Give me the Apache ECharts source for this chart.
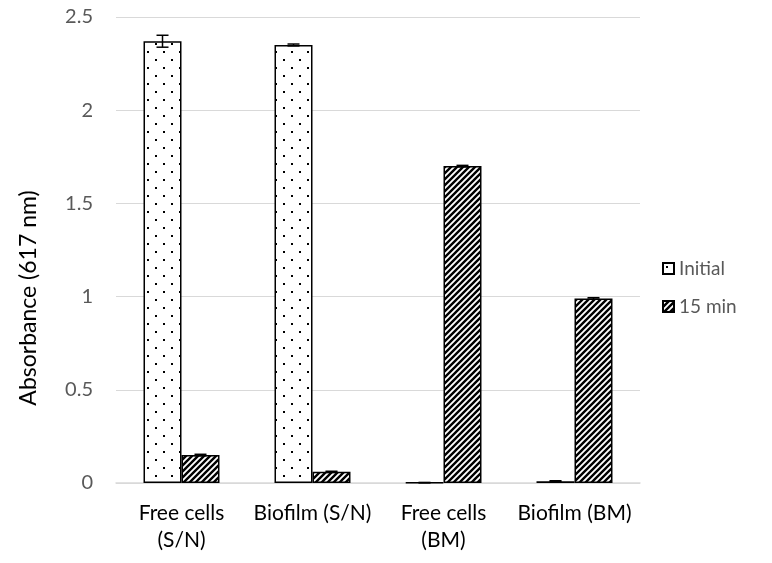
<!DOCTYPE html>
<html>
<head>
<meta charset="utf-8">
<script src="https://cdn.jsdelivr.net/npm/echarts@6/dist/echarts.min.js"></script>
<style>
  html, body { margin: 0; padding: 0; background: #fff; }
  #chart { width: 772px; height: 563px; }
</style>
</head>
<body>
<div id="chart"></div>
<script>
// chart data
const categories = ['Free cells\n(S/N)', 'Biofilm (S/N)', 'Free cells\n(BM)', 'Biofilm (BM)'];
const initialValues = [2.37, 2.35, 0.002, 0.01];
const initialErrors = [0.032, 0.005, 0.001, 0.002];
const min15Values = [0.15, 0.06, 1.70, 0.99];
const min15Errors = [0.004, 0.003, 0.004, 0.004];

// fill patterns
function dotPattern () {
  const c = document.createElement('canvas');
  c.width = 16; c.height = 16;
  const ctx = c.getContext('2d');
  ctx.fillStyle = '#fff';
  ctx.fillRect(0, 0, 16, 16);
  ctx.fillStyle = '#000';
  ctx.fillRect(3, 3, 2, 2);
  ctx.fillRect(11, 11, 2, 2);
  return c;
}
function stripePattern () {
  const s = 6;
  const c = document.createElement('canvas');
  c.width = s; c.height = s;
  const ctx = c.getContext('2d');
  ctx.fillStyle = '#fff';
  ctx.fillRect(0, 0, s, s);
  ctx.strokeStyle = '#000';
  ctx.lineWidth = 2.4;
  ctx.beginPath();
  ctx.moveTo(-s, s); ctx.lineTo(s, -s);
  ctx.moveTo(0, 2 * s); ctx.lineTo(2 * s, 0);
  ctx.moveTo(0, s); ctx.lineTo(s, 0);
  ctx.stroke();
  return c;
}

function errorSeries (values, errors, side) {
  return {
    type: 'custom',
    z: 10,
    silent: true,
    data: values.map((v, i) => [i, v, errors[i]]),
    renderItem: (params, api) => {
      const idx = api.value(0);
      const band = api.size([1, 0])[0];
      const x = api.coord([idx, 0])[0] + side * band * 0.145;
      const hi = api.coord([idx, api.value(1) + api.value(2)])[1];
      const lo = api.coord([idx, api.value(1) - api.value(2)])[1];
      const w = 6;
      const style = { stroke: '#000', lineWidth: 1.5 };
      return {
        type: 'group',
        children: [
          { type: 'line', shape: { x1: x, y1: hi, x2: x, y2: lo }, style },
          { type: 'line', shape: { x1: x - w, y1: hi, x2: x + w, y2: hi }, style },
          { type: 'line', shape: { x1: x - w, y1: lo, x2: x + w, y2: lo }, style }
        ]
      };
    }
  };
}

const chart = echarts.init(document.getElementById('chart'));
const font = 'Lato, "Open Sans", sans-serif';

chart.setOption({
  animation: false,
  textStyle: { fontFamily: font },
  grid: { left: 116, right: 132, top: 17, bottom: 80 },
  legend: {
    orient: 'vertical',
    left: 657,
    top: 254,
    icon: 'rect',
    itemWidth: 11,
    itemHeight: 11,
    itemGap: 19,
    data: ['Initial', '15 min'],
    textStyle: { fontSize: 19, color: '#595959', fontFamily: font }
  },
  xAxis: {
    type: 'category',
    data: categories,
    axisLine: { lineStyle: { color: '#d9d9d9', width: 1.5 } },
    axisTick: { show: false },
    axisLabel: { interval: 0, fontSize: 21, color: '#000', margin: 17, lineHeight: 27, fontFamily: font }
  },
  yAxis: {
    type: 'value',
    min: 0,
    max: 2.5,
    interval: 0.5,
    name: 'Absorbance (617 nm)',
    nameLocation: 'middle',
    nameGap: 76,
    nameTextStyle: { fontSize: 23, color: '#000', fontFamily: font, padding: [0, 96, 0, 0] },
    axisLine: { show: false },
    axisTick: { show: false },
    axisLabel: { fontSize: 20, color: '#595959', margin: 23, fontFamily: font },
    splitLine: { lineStyle: { color: '#d9d9d9', width: 1 } }
  },
  series: [
    {
      name: 'Initial',
      type: 'bar',
      data: initialValues,
      barGap: '0%',
      barCategoryGap: '42%',
      itemStyle: {
        color: { image: dotPattern(), repeat: 'repeat' },
        borderColor: '#000',
        borderWidth: 1.5
      }
    },
    {
      name: '15 min',
      type: 'bar',
      data: min15Values,
      barGap: '0%',
      barCategoryGap: '42%',
      itemStyle: {
        color: { image: stripePattern(), repeat: 'repeat' },
        borderColor: '#000',
        borderWidth: 1.5
      }
    },
    errorSeries(initialValues, initialErrors, -1),
    errorSeries(min15Values, min15Errors, 1)
  ]
});
</script>
</body>
</html>
